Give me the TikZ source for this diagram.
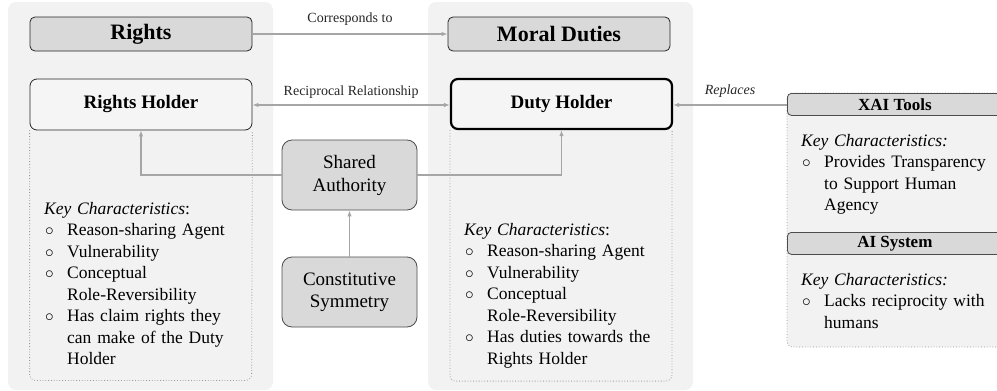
\documentclass[tikz,border=0pt]{standalone}
\usepackage{fontspec}
\setmainfont{Liberation Serif}
\usetikzlibrary{arrows.meta,calc}
\definecolor{panelbg}{HTML}{F2F2F2}
\definecolor{headbg}{HTML}{D9D9D9}
\definecolor{holderbg}{HTML}{F5F5F5}
\definecolor{arrowgray}{HTML}{A6A6A6}
\definecolor{dotgray}{HTML}{999999}
\newcommand\bi{\noindent\hangindent=23pt\hangafter=1\makebox[23pt][l]{\hspace{1pt}$\circ$}}
\tikzset{
  panel/.style={fill=panelbg, draw=none, rounded corners=8pt, minimum width=265pt, minimum height=388pt, inner sep=0},
  headbox/.style={fill=headbg, draw=black!85, line width=0.8pt, rounded corners=5pt, minimum width=222pt, minimum height=34pt, inner sep=0, font=\fontsize{22}{26}\selectfont\bfseries},
  holderbox/.style={fill=holderbg, draw=black!85, line width=0.8pt, rounded corners=7pt, minimum width=222pt, minimum height=51pt, inner sep=0, font=\fontsize{19}{23}\selectfont\bfseries},
  conceptbox/.style={fill=headbg, draw=black!70, line width=0.8pt, rounded corners=10pt, minimum width=135pt, minimum height=70pt, inner sep=0, align=center},
  kcbox/.style={draw=dotgray, dotted, line width=0.8pt, rounded corners=6pt},
  kctext/.style={anchor=north west, inner sep=0, text width=215pt, align=left, font=\fontsize{17.5}{21.5}\selectfont},
  link/.style={draw=arrowgray, line width=1.1pt, -{Latex[length=6pt,width=4.5pt]}},
  linklabel/.style={font=\fontsize{14}{16}\selectfont, text=black!85, inner sep=0},
  xaihead/.style={fill=headbg, draw=black!70, line width=0.8pt, rounded corners=4pt, minimum width=216pt, minimum height=22pt, inner sep=0, anchor=north west, font=\fontsize{17}{20}\selectfont\bfseries},
}
\begin{document}
\begin{tikzpicture}[x=1pt,y=-1pt]
\useasboundingbox (0,0) rectangle (997,391);
% panels
\node[panel] (lpanel) at (140.5,196) {};
\node[panel] (rpanel) at (560.5,196) {};
% XAI panel
\path[fill=panelbg, draw=dotgray, dotted, line width=0.8pt, rounded corners=6pt] (787,93) rectangle (1010,347);
\node[xaihead] (xai) at (787,93) {\hspace*{-1pt}XAI Tools};
\node[xaihead] (ais) at (787,232) {\hspace*{-1pt}AI System};
% header boxes
\node[headbox] (rights) at (141,34) {Rights};
\node[headbox] (duties) at (559,34) {Moral Duties};
% holders
\node[holderbox] (rh) at (141,104.5) {Rights Holder};
\node[holderbox, line width=2.2pt, draw=black, minimum width=221pt, minimum height=50pt] (dh) at (561.5,104) {Duty Holder};
% dotted characteristic boxes
\draw[kcbox] (rh.south west) -- ++(0,250) -- ++(222,0) -- (rh.south east);
\draw[kcbox] ($(dh.south west)+(0,0)$) -- ++(0,251) -- ++(222,0) -- ($(dh.south east)+(-1,0)$);
% concept boxes
\node[conceptbox, font=\fontsize{19}{23}\selectfont] (sa) at (349.5,175) {Shared\\Authority};
\node[conceptbox, font=\fontsize{19}{22}\selectfont] (cs) at (349.5,292) {Constitutive\\Symmetry};
% texts
\node[kctext] (rhkc) at (44,202) {\textit{Key Characteristics}:\par
\bi Reason-sharing Agent\par
\bi Vulnerability\par
\bi Conceptual\newline Role-Reversibility\par
\bi Has claim rights they\newline can make of the Duty\newline Holder\par};
\node[kctext] (dhkc) at (464,223) {\textit{Key Characteristics}:\par
\bi Reason-sharing Agent\par
\bi Vulnerability\par
\bi Conceptual\newline Role-Reversibility\par
\bi Has duties towards the\newline Rights Holder\par};
\node[kctext, text width=190pt] (xaikc) at (801,134) {\textit{Key Characteristics:}\par
\bi Provides Transparency\newline to Support Human\newline Agency\par};
\node[kctext, text width=190pt] (aikc) at (801,273) {\textit{Key Characteristics:}\par
\bi Lacks reciprocity with\newline humans\par};
% connectors
\draw[link] (rights.east) -- node[linklabel, above=8pt] (corr) {Corresponds to} (duties.west);
\draw[link, {Latex[length=6pt,width=4.5pt]}-{Latex[length=6pt,width=4.5pt]}] (rh.east |- 0,105) -- node[linklabel, above=6pt] (recip) {Reciprocal Relationship} (dh.west |- 0,105);
\coordinate (xaiw) at (787,105);
\draw[link] (xaiw) -- node[linklabel, above=7pt, font=\fontsize{14}{16}\selectfont\itshape] (repl) {Replaces} (dh.east |- xaiw);
\draw[link] (sa.west) -| (rh.south);
\draw[link] (sa.east) -| (dh.south);
\draw[link] (cs.north) -- (sa.south);
\end{tikzpicture}
\end{document}
